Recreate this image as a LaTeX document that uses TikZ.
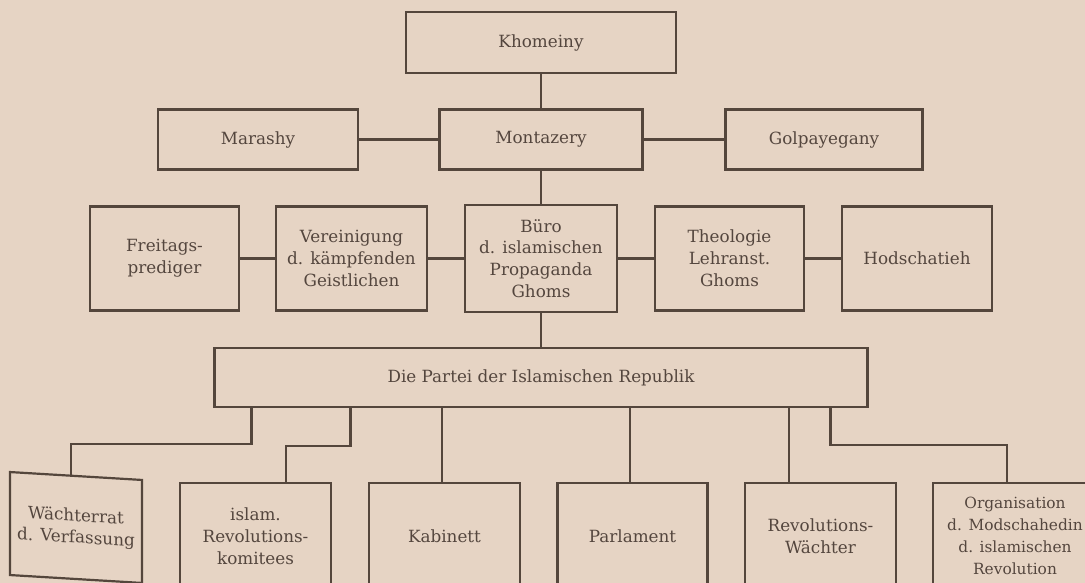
\documentclass[tikz,border=0pt]{standalone}
\usepackage{fontspec}
\setmainfont{DejaVu Serif}
\usepackage{xcolor}
\usepackage{tikz}
\usetikzlibrary{shapes,arrows,positioning}

\definecolor{paper}{RGB}{230,212,196}
\definecolor{ink}{RGB}{84,70,60}
\definecolor{print}{RGB}{84,70,62}

\begin{document}
\begin{tikzpicture}[
    x=1pt, y=-1pt,
    block/.style={
        rectangle,
        draw=ink,
        line width=2.2pt,
        text=print,
        align=center,
        inner sep=1pt,
        font=\fontsize{16.8}{21.8}\selectfont
    },
    headbox/.style={
        block,
        minimum width=200pt,
        minimum height=60pt
    },
    midbox/.style={
        block,
        minimum width=150pt,
        minimum height=104pt
    },
    lowbox/.style={
        block,
        minimum width=151pt,
        minimum height=106pt
    },
    line/.style={
        draw=ink, line width=2.2pt
    }
]

    \fill [paper] (0,0) rectangle (1085,583);
    \useasboundingbox (0,0) rectangle (1085,583);
    \clip (0,0) rectangle (1085,583);

    % Nodes
    \node [headbox, minimum width=270pt, minimum height=61pt] (khomeiny) at (541,42.5) {Khomeiny};
    \node [headbox, below of=khomeiny, node distance=97pt, minimum width=203pt] (montazery) {Montazery};
    \node [headbox, left of=montazery, node distance=283pt] (marashy) {Marashy};
    \node [headbox, right of=montazery, node distance=283pt, minimum width=197pt] (golpayegany) {Golpayegany};

    \node [midbox, below of=montazery, node distance=119pt, minimum width=152pt, minimum height=107pt] (buero) {Büro\\d. islamischen\\Propaganda\\Ghoms};
    \node [midbox, left of=buero, node distance=189.5pt, minimum width=151pt] (vereinigung) {Vereinigung\\d. kämpfenden\\Geistlichen};
    \node [midbox, left of=vereinigung, node distance=187pt, minimum width=149pt] (freitag) {Freitags-\\prediger};
    \node [midbox, right of=buero, node distance=188.5pt, minimum width=149pt] (theologie) {Theologie\\Lehranst.\\Ghoms};
    \node [midbox, right of=theologie, node distance=187.5pt] (hodschatieh) {Hodschatieh};

    \node [headbox, below of=buero, node distance=119pt, minimum width=653pt, minimum height=59pt] (partei) {Die Partei der Islamischen Republik};

    \node [lowbox] (kabinett) at (444.5,536) {Kabinett};
    \node [lowbox, left of=kabinett, node distance=189pt] (komitees) {islam.\\Revolutions-\\komitees};
    \node [lowbox, right of=kabinett, node distance=188pt, minimum width=150pt] (parlament) {Parlament};
    \node [lowbox, right of=parlament, node distance=188pt] (waechter) {Revolutions-\\Wächter};
    \node [lowbox, right of=waechter, node distance=194.5pt, minimum width=164pt,
           font=\fontsize{15.4}{21.8}\selectfont] (modschahedin) {Organisation\\d. Modschahedin\\d. islamischen\\Revolution};
    \node [lowbox, yslant=-0.06, minimum width=132pt, minimum height=103pt] (waechterrat) at (76,527.5) {Wächterrat\\d. Verfassung};

    % Drop points
    \coordinate (ratdrop) at ([xshift=-289.5pt]partei.south);
    \coordinate (komdrop) at ([xshift=-190.5pt]partei.south);
    \coordinate (orgdrop) at ([xshift=289.5pt]partei.south);
    \coordinate (rattop) at ([xshift=-5pt,yshift=-1pt]waechterrat.north);
    \coordinate (komtop) at ([xshift=30.5pt]komitees.north);
    \coordinate (wachtop) at ([xshift=-31.5pt]waechter.north);
    \coordinate (orgtop) at ([xshift=-8pt]modschahedin.north);

    % Edges
    \path [line] (khomeiny) -- (montazery);
    \path [line] (marashy) -- (montazery);
    \path [line] (montazery) -- (golpayegany);
    \path [line] (montazery) -- (buero);
    \path [line] (freitag) -- (vereinigung);
    \path [line] (vereinigung) -- (buero);
    \path [line] (buero) -- (theologie);
    \path [line] (theologie) -- (hodschatieh);
    \path [line] (buero) -- (partei);
    \path [line] (ratdrop) -- ++(0,36) -| (rattop);
    \path [line] (komdrop) -- ++(0,38) -| (komtop);
    \path [line] (partei.south -| kabinett.north) ++(-2.5,0) -- ([xshift=-2.5pt]kabinett.north);
    \path [line] (partei.south -| parlament.north) ++(-2.5,0) -- ([xshift=-2.5pt]parlament.north);
    \path [line] (wachtop |- partei.south) -- (wachtop);
    \path [line] (orgdrop) -- ++(0,37) -| (orgtop);

\end{tikzpicture}
\end{document}
